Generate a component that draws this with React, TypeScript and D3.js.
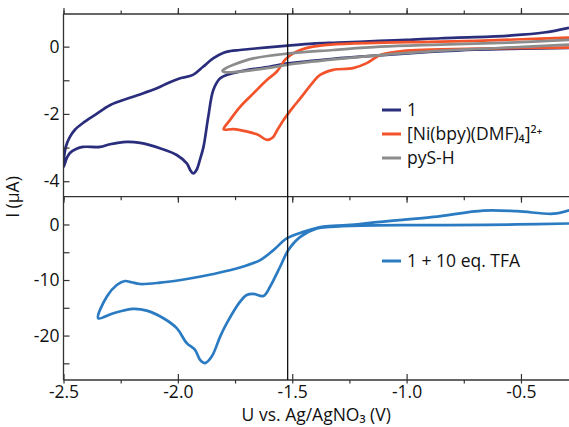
import React, { useEffect, useRef } from "react";
import * as d3 from "d3";

// potential (V vs Ag/AgNO3), current (µA)
const cv1 = [
  [-0.29, 0.56], [-0.4, 0.42], [-0.55, 0.33], [-0.7, 0.28], [-0.85, 0.25], [-1.0, 0.2],
  [-1.12, 0.17], [-1.3, 0.12], [-1.41, 0.09], [-1.52, 0.03], [-1.62, -0.03], [-1.73, -0.1],
  [-1.77, -0.13], [-1.8, -0.18], [-1.846, -0.35], [-1.89, -0.6], [-1.934, -0.84], [-1.99, -0.94],
  [-2.04, -1.07], [-2.092, -1.24], [-2.196, -1.49], [-2.297, -1.74], [-2.36, -2.02], [-2.415, -2.27],
  [-2.45, -2.47], [-2.472, -2.68], [-2.49, -2.98], [-2.5, -3.58],
  [-2.485, -3.3], [-2.472, -3.16], [-2.445, -3.04], [-2.415, -2.98], [-2.34, -2.98], [-2.297, -2.9],
  [-2.224, -2.83], [-2.165, -2.86], [-2.078, -3.02], [-2.005, -3.22], [-1.961, -3.47], [-1.945, -3.68],
  [-1.933, -3.77], [-1.918, -3.66], [-1.903, -3.35], [-1.888, -2.98], [-1.867, -2.08], [-1.845, -1.29],
  [-1.815, -0.94], [-1.772, -0.81], [-1.7, -0.7], [-1.6, -0.6], [-1.52, -0.5], [-1.32, -0.36],
  [-1.12, -0.26], [-0.9, -0.16], [-0.7, -0.09], [-0.5, -0.06], [-0.29, -0.04],
];

const cvNi = [
  [-0.29, 0.27], [-0.5, 0.22], [-0.7, 0.17], [-0.9, 0.14], [-1.1, 0.12], [-1.32, 0.07],
  [-1.41, 0.0], [-1.465, -0.1], [-1.496, -0.2], [-1.53, -0.38], [-1.567, -0.74], [-1.611, -0.99],
  [-1.67, -1.39], [-1.728, -1.79], [-1.772, -2.18], [-1.8, -2.46],
  [-1.757, -2.45], [-1.7, -2.52], [-1.65, -2.62], [-1.611, -2.77], [-1.585, -2.7], [-1.567, -2.5],
  [-1.538, -2.18], [-1.495, -1.79], [-1.465, -1.54], [-1.407, -1.04], [-1.378, -0.84], [-1.321, -0.69],
  [-1.234, -0.64], [-1.174, -0.49], [-1.115, -0.25], [-1.0, -0.12], [-0.85, -0.08], [-0.6, -0.05],
  [-0.29, -0.03],
];

const cvPyS = [
  [-0.29, 0.2], [-0.55, 0.12], [-0.85, 0.06], [-1.115, 0.0], [-1.32, -0.1], [-1.524, -0.21],
  [-1.67, -0.35], [-1.757, -0.54], [-1.79, -0.64], [-1.805, -0.72],
  [-1.795, -0.76], [-1.757, -0.76], [-1.611, -0.64], [-1.524, -0.54], [-1.32, -0.38],
  [-1.115, -0.25], [-0.85, -0.12], [-0.6, -0.04], [-0.29, 0.06],
];

const cvTFA = [
  [-0.288, 0.18], [-0.517, 0.0], [-0.824, -0.13], [-0.984, -0.13], [-1.2, -0.2], [-1.334, -0.43],
  [-1.392, -0.72], [-1.465, -2.23], [-1.517, -4.61], [-1.553, -7.61], [-1.597, -11.2], [-1.626, -12.87],
  [-1.67, -12.5], [-1.699, -12.7], [-1.728, -13.9], [-1.786, -17.77], [-1.815, -20.18], [-1.852, -23.77],
  [-1.881, -24.95], [-1.903, -24.36], [-1.925, -22.57], [-1.961, -21.36], [-2.005, -18.67], [-2.063, -16.88],
  [-2.136, -15.51], [-2.195, -15.2], [-2.282, -15.98], [-2.348, -16.88],
  [-2.311, -13.0], [-2.267, -10.9], [-2.231, -10.18], [-2.202, -10.41], [-2.165, -10.72], [-2.078, -10.48],
  [-1.961, -9.82], [-1.845, -8.92], [-1.728, -7.76], [-1.64, -6.41], [-1.582, -4.61], [-1.524, -2.51],
  [-1.451, -1.33], [-1.364, -0.4], [-1.261, -0.13], [-1.115, 0.47], [-0.882, 1.36], [-0.664, 2.51],
  [-0.517, 2.39], [-0.357, 1.94], [-0.289, 2.57],
];

const topSeries = [
  { name: "1", data: cv1, color: "#2a2d7c" },
  { name: "[Ni(bpy)(DMF)₄]²⁺", data: cvNi, color: "#f2532a" },
  { name: "pyS-H", data: cvPyS, color: "#8c8c8c" },
];
const bottomSeries = [{ name: "1 + 10 eq. TFA", data: cvTFA, color: "#2a7bc2" }];

const xTicks = [-2.5, -2.0, -1.5, -1.0, -0.5];
const topYTicks = [0, -2, -4];
const bottomYTicks = [0, -10, -20];
const markerV = -1.52;

const FONT = "'Open Sans', sans-serif";
const FS = "17.5px";

export default function App() {
  const ref = useRef(null);

  useEffect(() => {
    const W = 569, H = 427;
    const left = 63.5, right = 569, top = 14, mid = 196.7, bottom = 380;

    const x = d3.scaleLinear().domain([-2.5, -0.29]).range([left, right]);
    const yTop = d3.scaleLinear().domain([-4.46, 0.97]).range([mid, top]);
    const yBot = d3.scaleLinear().domain([-28, 5]).range([bottom, mid]);

    const svg = d3.select(ref.current).html(null).attr("width", W).attr("height", H);
    const fmt = (d) => String(d).replace("\u2212", "-");
    const xMinor = d3.range(-2.5, -0.28, 0.25);

    const defs = svg.append("defs");
    defs.append("clipPath").attr("id", "clipTop").append("rect")
      .attr("x", left).attr("y", top).attr("width", right - left).attr("height", mid - top);
    defs.append("clipPath").attr("id", "clipBot").append("rect")
      .attr("x", left).attr("y", mid).attr("width", right - left).attr("height", bottom - mid);

    const line = (ys) => d3.line().x((d) => x(d[0])).y((d) => ys(d[1])).curve(d3.curveCatmullRom.alpha(0.5));

    // curves
    const gTop = svg.append("g").attr("clip-path", "url(#clipTop)");
    topSeries.forEach((s) => {
      gTop.append("path").attr("d", line(yTop)(s.data)).attr("fill", "none")
        .attr("stroke", s.color).attr("stroke-width", 2.7).attr("stroke-linejoin", "round");
    });
    const gBot = svg.append("g").attr("clip-path", "url(#clipBot)");
    bottomSeries.forEach((s) => {
      gBot.append("path").attr("d", line(yBot)(s.data)).attr("fill", "none")
        .attr("stroke", s.color).attr("stroke-width", 2.7).attr("stroke-linejoin", "round");
    });

    const styleAxis = (g) => {
      g.select(".domain").remove();
      g.selectAll("line").attr("stroke", "#333").attr("stroke-width", 1.2);
      g.selectAll("text").attr("fill", "#111").style("font-family", FONT).style("font-size", FS);
    };

    // x ticks on both edges of the top panel and the bottom edge of the lower one, all pointing inward
    const xAxisMinor = (g, dir) => g.call(
      (dir === "top" ? d3.axisTop(x) : d3.axisBottom(x)).tickValues(xMinor).tickSize(-3.5).tickFormat(() => "")
    ).call(styleAxis);
    const xAxisMajor = (g, dir, labels) => g.call(
      (dir === "top" ? d3.axisTop(x) : d3.axisBottom(x)).tickValues(xTicks).tickSize(-6).tickPadding(6)
        .tickFormat(labels ? (d) => fmt(d3.format(".1f")(d)) : () => "")
    ).call(styleAxis);

    svg.append("g").attr("transform", `translate(0,${top})`).call((g) => xAxisMinor(g, "bottom"));
    svg.append("g").attr("transform", `translate(0,${top})`).call((g) => xAxisMajor(g, "bottom", false));
    svg.append("g").attr("transform", `translate(0,${mid})`).call((g) => xAxisMinor(g, "top"));
    svg.append("g").attr("transform", `translate(0,${mid})`).call((g) => xAxisMajor(g, "top", false));
    svg.append("g").attr("transform", `translate(0,${bottom})`).call((g) => xAxisMinor(g, "top"));
    svg.append("g").attr("transform", `translate(0,${bottom})`).call((g) => xAxisMajor(g, "bottom", true));

    svg.append("g").attr("transform", `translate(${left},0)`)
      .call(d3.axisLeft(yTop).tickValues(d3.range(-4, 1, 1)).tickSize(-6).tickFormat(() => ""))
      .call(styleAxis);
    svg.append("g").attr("transform", `translate(${left},0)`)
      .call(d3.axisLeft(yTop).tickValues(topYTicks).tickSize(0).tickPadding(4).tickFormat(fmt))
      .call(styleAxis);
    svg.append("g").attr("transform", `translate(${left},0)`)
      .call(d3.axisLeft(yBot).tickValues(d3.range(-25, 1, 5)).tickSize(-6).tickFormat(() => ""))
      .call(styleAxis);
    svg.append("g").attr("transform", `translate(${left},0)`)
      .call(d3.axisLeft(yBot).tickValues(bottomYTicks).tickSize(0).tickPadding(4).tickFormat(fmt))
      .call(styleAxis);

    // frame lines
    const frame = svg.append("g").attr("stroke", "#333").attr("stroke-width", 1.3).attr("fill", "none");
    frame.append("line").attr("x1", left).attr("x2", right).attr("y1", top).attr("y2", top);
    frame.append("line").attr("x1", left).attr("x2", right).attr("y1", mid).attr("y2", mid);
    frame.append("line").attr("x1", left).attr("x2", right).attr("y1", bottom).attr("y2", bottom);
    frame.append("line").attr("x1", left).attr("x2", left).attr("y1", top).attr("y2", bottom);

    // marker line
    svg.append("line").attr("x1", x(markerV)).attr("x2", x(markerV)).attr("y1", top).attr("y2", bottom)
      .attr("stroke", "#111").attr("stroke-width", 1.3);

    // legends
    const legend = (series, x0, y0) => {
      const g = svg.append("g").attr("transform", `translate(${x0},${y0})`);
      series.forEach((s, i) => {
        const row = g.append("g").attr("transform", `translate(0,${i * 24})`);
        row.append("line").attr("x1", 0).attr("x2", 19).attr("stroke", s.color).attr("stroke-width", 3);
        row.append("text").attr("x", 25).attr("dy", "0.35em").text(s.name)
          .style("font-family", FONT).style("font-size", FS).attr("fill", "#111");
      });
    };
    legend(topSeries, 382, 110);
    legend(bottomSeries, 382, 261);

    // axis titles
    svg.append("text").attr("transform", `translate(19,${(top + bottom) / 2}) rotate(-90)`)
      .attr("text-anchor", "middle").style("font-family", FONT).style("font-size", FS)
      .attr("fill", "#111").text("I (µA)");
    svg.append("text").attr("x", (left + right) / 2).attr("y", 421).attr("text-anchor", "middle")
      .style("font-family", FONT).style("font-size", FS).attr("fill", "#111")
      .text("U vs. Ag/AgNO₃ (V)");
  });

  return (
    <div style={{ position: "absolute", left: 0, top: 0 }}>
      <svg ref={ref} style={{ display: "block", background: "#fff" }}></svg>
    </div>
  );
}
